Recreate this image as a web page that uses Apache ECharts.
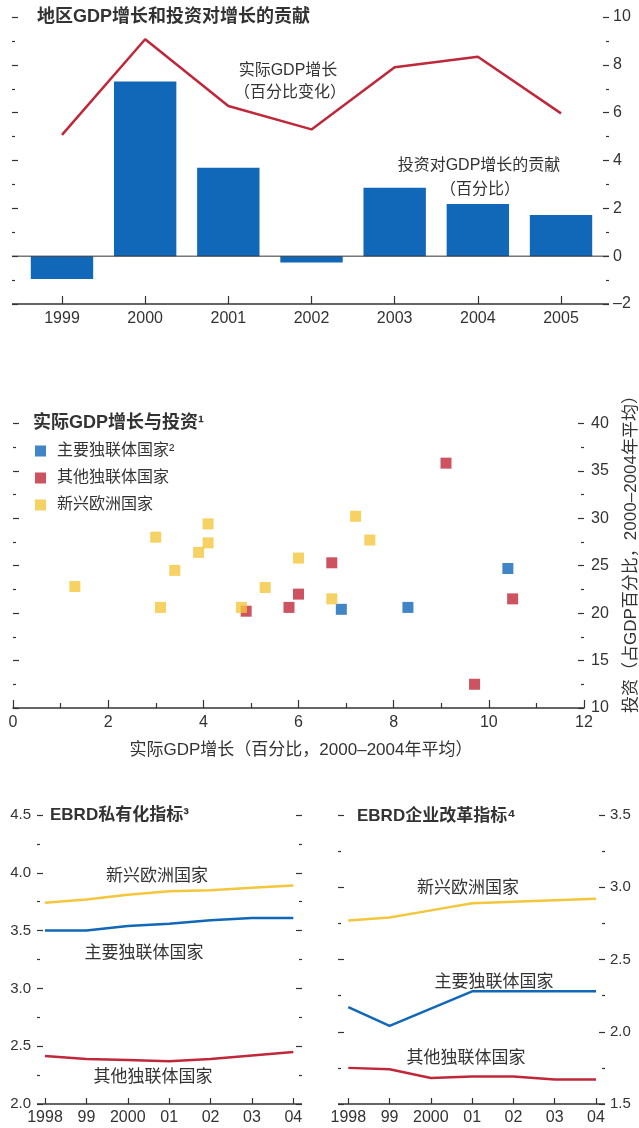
<!DOCTYPE html>
<html><head><meta charset="utf-8">
<script src="https://cdn.jsdelivr.net/npm/echarts@6/dist/echarts.min.js"></script>
<style>html,body{margin:0;padding:0;background:#fff}#c{width:639px;height:1128px}</style>
</head><body><div id="c"></div>
<script>
// ---- data ----
var years = ['1999','2000','2001','2002','2003','2004','2005'];
var investContribution = [-0.95, 7.3, 3.7, -0.27, 2.86, 2.18, 1.72];
var realGdpGrowth = [5.07, 9.07, 6.28, 5.3, 7.9, 8.34, 5.97];
var topTicks = [-2, 0, 2, 4, 6, 8, 10];

var majorCisGrowth = [6.9, 8.3, 10.4];
var majorCisInvest = [20.4, 20.6, 24.7];
var otherCisGrowth = [9.1, 4.9, 5.8, 6.0, 6.7, 9.7, 10.5];
var otherCisInvest = [35.8, 20.2, 20.6, 22.0, 25.3, 12.5, 21.5];
var europeGrowth = [1.3, 3.0, 3.1, 3.4, 3.9, 4.1, 4.1, 4.8, 5.3, 6.0, 6.7, 7.2, 7.5];
var europeInvest = [22.8, 28.0, 20.6, 24.5, 26.4, 29.4, 27.4, 20.6, 22.7, 25.8, 21.5, 30.2, 27.7];

var yrs2 = ['1998','99','2000','01','02','03','04'];
var privEurope = [3.74, 3.77, 3.81, 3.84, 3.85, 3.87, 3.89];
var privMajorCis = [3.5, 3.5, 3.54, 3.56, 3.59, 3.61, 3.61];
var privOtherCis = [2.415, 2.39, 2.38, 2.37, 2.39, 2.42, 2.45];
var entEurope = [2.77, 2.79, 2.84, 2.89, 2.90, 2.91, 2.92];
var entMajorCis = [2.17, 2.04, 2.16, 2.28, 2.28, 2.28, 2.28];
var entOtherCis = [1.75, 1.74, 1.68, 1.69, 1.69, 1.67, 1.67];

var BLUE = '#1167b8', RED = '#c0283a', YEL = '#f4c63c', TXT = '#333';
var FF = "'Liberation Sans','Noto Sans CJK SC',sans-serif";

function zip(a, b) { return a.map(function (v, i) { return [v, b[i]]; }); }
function fix1(v) { return v.toFixed(1); }

var chart = echarts.init(document.getElementById('c'));

function tickAxis(o) {
  var base = {
    axisLine: { show: false, onZero: false },
    splitLine: { show: false },
    axisTick: { show: true, inside: true, length: 6, lineStyle: { color: TXT, width: 1.2 } },
    minorTick: { show: true, splitNumber: 2, length: 3, lineStyle: { color: TXT, width: 1.2 } },
    axisLabel: { show: false, color: TXT, fontSize: 16, fontFamily: FF }
  };
  for (var k in o) {
    if (typeof o[k] === 'object' && base[k] && !Array.isArray(o[k])) {
      for (var j in o[k]) base[k][j] = o[k][j];
    } else base[k] = o[k];
  }
  return base;
}

var option = {
  animation: false,
  textStyle: { fontFamily: FF },
  grid: [
    { left: 20.4, right: 36.4, top: 17, height: 287 },
    { left: 13, right: 55, top: 423.3, height: 284.7 },
    { left: 45, right: 345.7, top: 815, height: 289 },
    { left: 348.3, right: 43, top: 815, height: 289 }
  ],
  xAxis: [
    { type: 'category', gridIndex: 0, data: years, axisLine: { show: false, onZero: false },
      axisTick: { show: true, inside: true, length: 8, alignWithLabel: true, lineStyle: { color: TXT, width: 1.2 } },
      axisLabel: { color: TXT, fontSize: 16, margin: 7, interval: 0 }, splitLine: { show: false } },
    { type: 'value', gridIndex: 1, min: 0, max: 12, interval: 2,
      axisLine: { show: true, onZero: false, lineStyle: { color: TXT, width: 1.5 } },
      axisTick: { show: true, inside: true, length: 8, lineStyle: { color: TXT, width: 1.2 } },
      minorTick: { show: true, splitNumber: 2, length: 5, lineStyle: { color: TXT, width: 1.2 } },
      axisLabel: { color: TXT, fontSize: 16, margin: 7 }, splitLine: { show: false } },
    { type: 'category', gridIndex: 2, data: yrs2, boundaryGap: false, axisLine: { show: false, onZero: false },
      axisTick: { show: true, inside: true, length: 6, interval: 0, lineStyle: { color: TXT, width: 1.2 } },
      axisLabel: { color: TXT, fontSize: 16, margin: 6, interval: 0 }, splitLine: { show: false } },
    { type: 'category', gridIndex: 3, data: yrs2, boundaryGap: false, axisLine: { show: false, onZero: false },
      axisTick: { show: true, inside: true, length: 6, interval: 0, lineStyle: { color: TXT, width: 1.2 } },
      axisLabel: { color: TXT, fontSize: 16, margin: 6, interval: 0 }, splitLine: { show: false } }
  ],
  yAxis: [
    // 0 top right
    tickAxis({ type: 'value', gridIndex: 0, position: 'right', offset: 6.4, min: topTicks[0], max: topTicks[topTicks.length - 1], interval: 2,
      axisLabel: { show: true, margin: 4, formatter: function (v) { return v < 0 ? '\u2013' + Math.abs(v) : String(v); } } }),
    // 1 top left
    tickAxis({ type: 'value', gridIndex: 0, position: 'left', offset: 8.4, min: -2, max: 10, interval: 2 }),
    // 2 scatter right
    tickAxis({ type: 'value', gridIndex: 1, position: 'right', min: 10, max: 40, interval: 5,
      axisLabel: { show: true, margin: 7 } }),
    // 3 scatter left
    tickAxis({ type: 'value', gridIndex: 1, position: 'left', min: 10, max: 40, interval: 5 }),
    // 4 bottom-left left
    tickAxis({ type: 'value', gridIndex: 2, position: 'left', offset: 8, min: 2, max: 4.5, interval: 0.5,
      axisLabel: { show: true, margin: 6, fontSize: 15, formatter: fix1 } }),
    // 5 bottom-left right
    tickAxis({ type: 'value', gridIndex: 2, position: 'right', offset: 8.7, min: 2, max: 4.5, interval: 0.5 }),
    // 6 bottom-right left
    tickAxis({ type: 'value', gridIndex: 3, position: 'left', offset: 10.3, min: 1.5, max: 3.5, interval: 0.5 }),
    // 7 bottom-right right
    tickAxis({ type: 'value', gridIndex: 3, position: 'right', offset: 9, min: 1.5, max: 3.5, interval: 0.5,
      axisLabel: { show: true, margin: 5, fontSize: 15, formatter: fix1 } })
  ],
  legend: {
    left: 30, top: 438, orient: 'vertical', itemGap: 11, itemWidth: 11, itemHeight: 11, icon: 'rect',
    textStyle: { color: TXT, fontSize: 16, fontFamily: FF, padding: [0, 0, 0, 6] },
    data: ['主要独联体国家²', '其他独联体国家', '新兴欧洲国家']
  },
  series: [
    { type: 'bar', xAxisIndex: 0, yAxisIndex: 0, data: investContribution, barCategoryGap: '25%',
      itemStyle: { color: BLUE } },
    { type: 'line', xAxisIndex: 0, yAxisIndex: 0, data: realGdpGrowth, symbol: 'none',
      lineStyle: { color: RED, width: 2.5 } },
    { name: '主要独联体国家²', type: 'scatter', xAxisIndex: 1, yAxisIndex: 2, data: zip(majorCisGrowth, majorCisInvest),
      symbol: 'rect', symbolSize: 11, itemStyle: { color: BLUE } },
    { name: '其他独联体国家', type: 'scatter', xAxisIndex: 1, yAxisIndex: 2, data: zip(otherCisGrowth, otherCisInvest),
      symbol: 'rect', symbolSize: 11, itemStyle: { color: RED } },
    { name: '新兴欧洲国家', type: 'scatter', xAxisIndex: 1, yAxisIndex: 2, data: zip(europeGrowth, europeInvest),
      symbol: 'rect', symbolSize: 11, itemStyle: { color: YEL } },
    { type: 'line', xAxisIndex: 2, yAxisIndex: 4, data: privEurope, symbol: 'none', lineStyle: { color: YEL, width: 2.5 } },
    { type: 'line', xAxisIndex: 2, yAxisIndex: 4, data: privMajorCis, symbol: 'none', lineStyle: { color: BLUE, width: 2.5 } },
    { type: 'line', xAxisIndex: 2, yAxisIndex: 4, data: privOtherCis, symbol: 'none', lineStyle: { color: RED, width: 2.5 } },
    { type: 'line', xAxisIndex: 3, yAxisIndex: 7, data: entEurope, symbol: 'none', lineStyle: { color: YEL, width: 2.5 } },
    { type: 'line', xAxisIndex: 3, yAxisIndex: 7, data: entMajorCis, symbol: 'none', lineStyle: { color: BLUE, width: 2.5 } },
    { type: 'line', xAxisIndex: 3, yAxisIndex: 7, data: entOtherCis, symbol: 'none', lineStyle: { color: RED, width: 2.5 } }
  ]
};
chart.setOption(option);

function txt(x, y, s, size, bold, align, rot) {
  return { type: 'text', x: x, y: y, rotation: rot || 0, z: 100,
    style: { text: s, fill: TXT, font: (bold ? 'bold ' : '') + size + 'px ' + FF,
      textAlign: align || 'left', textVerticalAlign: 'middle', align: align || 'left', verticalAlign: 'middle' } };
}
function hline(x1, x2, y, w) {
  return { type: 'line', z: 50, shape: { x1: x1, y1: y, x2: x2, y2: y }, style: { stroke: TXT, lineWidth: w || 1.5 } };
}

var yTopBase = chart.convertToPixel({ yAxisIndex: 0 }, -2);
var yTopZero = chart.convertToPixel({ yAxisIndex: 0 }, 0);
var yBL = chart.convertToPixel({ yAxisIndex: 4 }, 2);
var yBR = chart.convertToPixel({ yAxisIndex: 7 }, 1.5);

chart.setOption({
  graphic: [
    hline(12, 609, yTopBase, 1.5),
    hline(12, 609, yTopZero, 1),
    hline(37, 302, yBL, 1.5),
    hline(338, 605, yBR, 1.5),
    txt(37, 17, '地区GDP增长和投资对增长的贡献', 18, true),
    txt(288, 71, '实际GDP增长', 16, false, 'center'),
    txt(290, 93, '（百分比变化）', 16, false, 'center'),
    txt(479, 166, '投资对GDP增长的贡献', 16, false, 'center'),
    txt(480, 190, '（百分比）', 16, false, 'center'),
    txt(33, 423, '实际GDP增长与投资¹', 18, true),
    txt(301, 750, '实际GDP增长（百分比，2000–2004年平均）', 17, false, 'center'),
    txt(631, 550, '投资（占GDP百分比，2000–2004年平均）', 17, false, 'center', Math.PI / 2),
    txt(50, 815, 'EBRD私有化指标³', 17, true),
    txt(157, 876, '新兴欧洲国家', 17, false, 'center'),
    txt(144, 953, '主要独联体国家', 17, false, 'center'),
    txt(153, 1077, '其他独联体国家', 17, false, 'center'),
    txt(357, 816, 'EBRD企业改革指标⁴', 17, true),
    txt(468, 888, '新兴欧洲国家', 17, false, 'center'),
    txt(494, 982, '主要独联体国家', 17, false, 'center'),
    txt(466, 1058, '其他独联体国家', 17, false, 'center')
  ]
});
</script></body></html>
